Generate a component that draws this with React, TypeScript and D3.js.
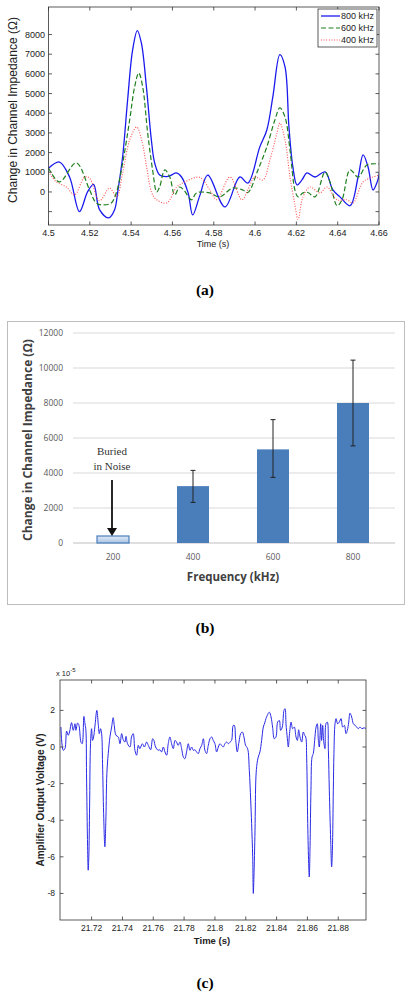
import React from 'react';
import * as d3 from 'd3';

// ---------- Panel (a) data: [time (s), change in impedance (Ω)] ----------
const series800: [number, number][] = [
  [4.5, 1200], [4.5053, 1520], [4.5102, 760], [4.515, -1000], [4.5189, 0], [4.5218, 380],
  [4.5247, -900], [4.5291, -1320], [4.532, -900], [4.5335, 0], [4.5359, 1800], [4.5383, 4670],
  [4.5407, 7200], [4.543, 8200], [4.545, 7550], [4.5474, 5340], [4.5498, 2640], [4.5514, 1470],
  [4.5538, 860], [4.5571, 780], [4.5595, 860], [4.5619, 970], [4.5644, 760], [4.5676, -50],
  [4.5698, -1170], [4.5732, -200], [4.5771, 860], [4.5854, -760], [4.5926, 760], [4.5965, 450],
  [4.6023, 2290], [4.6057, 3150], [4.6086, 4830], [4.612, 6980], [4.6145, 6360], [4.6164, 3300],
  [4.6183, 1270], [4.6203, 360], [4.6227, 610], [4.6251, 970], [4.629, 760], [4.6339, 1020],
  [4.6377, 100], [4.6411, -250], [4.646, -700], [4.6499, 760], [4.6523, 1880], [4.6547, 1270],
  [4.6571, 100], [4.6591, 500], [4.6605, 1120],
];
const series600: [number, number][] = [
  [4.5, 1220], [4.5053, 510], [4.5134, 1480], [4.5199, 100], [4.5231, -560], [4.5262, -660],
  [4.5304, -560], [4.5328, -50], [4.5359, 1470], [4.5393, 3660], [4.5417, 5340], [4.5437, 6050],
  [4.5456, 5340], [4.548, 3000], [4.5504, 1120], [4.5524, 0], [4.5538, 250], [4.5563, 1120],
  [4.5587, 760], [4.5611, -150], [4.5635, 250], [4.5655, 100], [4.5692, -400], [4.5716, -50],
  [4.5781, -50], [4.5829, -250], [4.5892, 200], [4.5941, 100], [4.5965, -30], [4.6014, 1120],
  [4.6057, 2290], [4.6096, 3660], [4.612, 4270], [4.6145, 3810], [4.6169, 2140], [4.6193, 100],
  [4.6208, -250], [4.6232, -50], [4.6256, -30], [4.629, -250], [4.6339, 1020], [4.6363, 500],
  [4.6397, -700], [4.6421, -400], [4.646, 1120], [4.6499, 760], [4.6542, 1370], [4.6605, 1420],
];
const series400: [number, number][] = [
  [4.5, 1020], [4.5039, 510], [4.5087, 250], [4.5126, -150], [4.5175, 760], [4.5199, 700],
  [4.5247, -450], [4.5296, 200], [4.533, -250], [4.5359, 970], [4.5393, 2640], [4.5427, 3300],
  [4.5451, 2640], [4.5475, 1270], [4.55, -50], [4.5524, -400], [4.5572, -560], [4.5621, 250],
  [4.566, 510], [4.5732, 740], [4.5781, 100], [4.5815, -400], [4.5878, 760], [4.5936, -400],
  [4.5965, 100], [4.5999, 760], [4.6038, 610], [4.6072, 1630], [4.6106, 3000], [4.612, 3500],
  [4.6145, 2640], [4.6169, 760], [4.6193, -660], [4.6208, -1400], [4.6232, -250], [4.6266, 250],
  [4.6314, -50], [4.6348, 250], [4.6397, -400], [4.6445, -400], [4.6474, -560], [4.6523, 510],
  [4.6571, 760], [4.6605, 860],
];
const legendLabels = ['800 kHz', '600 kHz', '400 kHz'];
const aXTicks = [4.5, 4.52, 4.54, 4.56, 4.58, 4.6, 4.62, 4.64, 4.66];
const aYTicks = [-1000, 0, 1000, 2000, 3000, 4000, 5000, 6000, 7000, 8000];

// ---------- Panel (b) data ----------
const bCategories = ['200', '400', '600', '800'];
const bValues = [400, 3250, 5350, 8000];
const bErrUpper = [NaN, 4150, 7050, 10450];
const bErrLower = [NaN, 2320, 3750, 5550];
const bYTicks = [0, 2000, 4000, 6000, 8000, 10000, 12000];

// ---------- Panel (c) data: [time (s), voltage (×1e-5 V)] ----------
const seriesC: [number, number][] = [
  [21.7001, 1.09], [21.7016, -0.18], [21.7027, -0.09], [21.7038, 0.87], [21.7048, 0.64], [21.7057, 0.82],
  [21.707, 1.33], [21.7081, 0.91], [21.7092, 1.27], [21.7098, 0.91], [21.7109, 1.31], [21.7118, 1.18],
  [21.7131, 0.27], [21.7139, 0.18], [21.715, 1.67], [21.7157, 1.27], [21.7163, 0.91], [21.7167, -1.45],
  [21.7174, -5.45], [21.7178, -6.73], [21.7182, -6.0], [21.7187, -3.27], [21.7193, 0.18], [21.72, 1.0],
  [21.7206, 0.36], [21.7213, 0.55], [21.7221, 1.09], [21.7234, 2.0], [21.7243, 1.27], [21.725, 0.73],
  [21.7258, 1.0], [21.7265, 0.73], [21.7271, -0.91], [21.7278, -3.64], [21.7286, -5.45], [21.7293, -3.82],
  [21.7299, -1.45], [21.7308, -0.36], [21.7319, 0.55], [21.733, 1.09], [21.734, 1.6], [21.7347, 1.18],
  [21.7358, 0.64], [21.7373, 0.55], [21.7384, 0.18], [21.7395, 0.73], [21.7405, 0.4], [21.7416, 0.27],
  [21.7423, 0.58], [21.7433, 0.18], [21.7449, 0], [21.7459, 0.55], [21.747, 0.73], [21.7481, -0.18],
  [21.7492, -0.45], [21.7503, 0.09], [21.7513, -0.09], [21.7529, 0.18], [21.7542, 0], [21.7557, 0.27],
  [21.7568, 0.09], [21.7583, -0.15], [21.7596, 0.45], [21.7604, 0.36], [21.7615, 0], [21.7632, -0.18],
  [21.7643, -0.15], [21.7654, -0.27], [21.7665, 0], [21.7676, -0.27], [21.7687, -0.45], [21.7697, 0.18],
  [21.7708, 0.55], [21.7719, 0.18], [21.773, -0.09], [21.7741, 0.36], [21.7751, 0.27], [21.7762, 0.09],
  [21.7773, 0.27], [21.7784, -0.09], [21.7795, -0.55], [21.7805, -0.64], [21.7816, -0.27], [21.7827, 0.18],
  [21.7838, -0.18], [21.7849, 0], [21.786, -0.18], [21.787, -0.15], [21.7881, -0.27], [21.7892, -0.36],
  [21.7903, -0.09], [21.7914, 0.09], [21.7925, 0.45], [21.7935, -0.18], [21.7946, -0.36], [21.7957, 0.09],
  [21.7968, 0.45], [21.7979, 0.55], [21.7989, 0.36], [21.8, 0.18], [21.8011, -0.27], [21.8022, 0],
  [21.8033, 0.18], [21.8043, 0.09], [21.8054, 0], [21.8065, 0.18], [21.8076, 0.27], [21.8087, 0.18],
  [21.8098, 0.27], [21.8108, 0.36], [21.8119, 1.18], [21.8126, 1.18], [21.8134, 0.45], [21.8145, -0.27],
  [21.8156, 0.27], [21.8167, 0.73], [21.8178, 0.82], [21.8188, 0.55], [21.8199, 0.09], [21.8212, -0.09],
  [21.8223, -1.27], [21.8232, -2.9], [21.8238, -4.18], [21.8245, -6.0], [21.8249, -8.0], [21.8253, -7.1],
  [21.826, -4.55], [21.8266, -1.64], [21.8273, -0.91], [21.8281, -0.55], [21.8292, -0.27], [21.8303, 0.36],
  [21.8314, 1.09], [21.8325, 1.36], [21.8331, 1.55], [21.8353, 1.9], [21.8364, 1.64], [21.8374, 1.09],
  [21.8385, 0.45], [21.8396, 0.55], [21.8407, 1.36], [21.8418, 1.45], [21.8426, 0.91], [21.8437, 1.09],
  [21.8448, 2.0], [21.8455, 2.09], [21.8461, 1.27], [21.847, 0.45], [21.8476, 0], [21.8483, 0.64],
  [21.8494, 1.36], [21.8504, 1.0], [21.8515, 1.09], [21.8526, 0.55], [21.8535, 0.36], [21.8543, 0.94],
  [21.8552, 0.55], [21.8563, 0.27], [21.8573, 0.82], [21.8582, 0.64], [21.8589, 0.55], [21.8595, -0.55],
  [21.8602, -4.18], [21.8608, -6.36], [21.8612, -7.1], [21.8617, -5.45], [21.8623, -2.36], [21.863, -0.55],
  [21.8638, -0.36], [21.8647, 0.36], [21.8656, 1.09], [21.8664, 1.27], [21.8671, 0.36], [21.8677, 0],
  [21.8686, 1.27], [21.8692, 0.36], [21.8699, 1.18], [21.8705, 0.36], [21.8714, -0.09], [21.872, 1.27],
  [21.8729, 1.36], [21.8736, -0.18], [21.8742, -2.36], [21.8751, -5.09], [21.8757, -6.55], [21.8762, -5.64],
  [21.8768, -2.36], [21.8772, -0.36], [21.8779, 1.27], [21.8786, 1.55], [21.8796, 1.27], [21.8807, 1.36],
  [21.8818, 1.55], [21.8829, 1.09], [21.884, 1.18], [21.885, 0.73], [21.8859, 0.91], [21.8868, 1.36],
  [21.8876, 1.85], [21.8887, 1.64], [21.8898, 1.27], [21.8909, 1.18], [21.892, 1.09], [21.893, 1.0],
  [21.8941, 1.09], [21.8954, 1.0], [21.8967, 1.05], [21.898, 1.0],
];
const cXTicks = [21.72, 21.74, 21.76, 21.78, 21.8, 21.82, 21.84, 21.86, 21.88];
const cYTicks = [-8, -6, -4, -2, 0, 2];

const MATLAB_FONT = '"Liberation Sans", Arial, sans-serif';
const EXCEL_FONT = '"Open Sans", "Noto Sans", sans-serif';
const SERIF = '"Liberation Serif", "Times New Roman", serif';

function PanelA() {
  const L = 48.5, R = 379, T = 7, B = 225;
  const x = d3.scaleLinear().domain([4.5, 4.66]).range([L, R]);
  const y = d3.scaleLinear().domain([-1680, 9400]).range([B, T]);
  const line = d3.line<[number, number]>().x(d => x(d[0])).y(d => y(d[1])).curve(d3.curveCatmullRom.alpha(0.5));
  const styles = [
    { data: series800, color: '#1a1aee', dash: undefined as string | undefined, w: 1.3 },
    { data: series600, color: '#1f7f1f', dash: '5,2.5', w: 1.2 },
    { data: series400, color: '#ff5050', dash: '1,1.6', w: 1.1 },
  ];
  return (
    <g fontFamily={MATLAB_FONT}>
      <defs>
        <clipPath id="clipA"><rect x={L} y={T} width={R - L} height={B - T} /></clipPath>
      </defs>
      <rect x={L} y={T} width={R - L} height={B - T} fill="#fff" />
      <g clipPath="url(#clipA)">
        {styles.map((s, i) => (
          <path key={i} d={line(s.data) || ''} fill="none" stroke={s.color} strokeWidth={s.w} strokeDasharray={s.dash} />
        ))}
      </g>
      <rect x={L} y={T} width={R - L} height={B - T} fill="none" stroke="#333" strokeWidth={0.8} />
      {aXTicks.map(t => (
        <g key={t}>
          <line x1={x(t)} x2={x(t)} y1={B} y2={B - 3.5} stroke="#333" strokeWidth={0.8} />
          <line x1={x(t)} x2={x(t)} y1={T} y2={T + 3.5} stroke="#333" strokeWidth={0.8} />
          <text x={x(t)} y={235.5} fontSize={9} textAnchor="middle" fill="#222">{String(t)}</text>
        </g>
      ))}
      {aYTicks.map(v => (
        <g key={v}>
          <line x1={L} x2={L + 3.5} y1={y(v)} y2={y(v)} stroke="#333" strokeWidth={0.8} />
          <line x1={R} x2={R - 3.5} y1={y(v)} y2={y(v)} stroke="#333" strokeWidth={0.8} />
          {v >= 0 && <text x={45} y={y(v) + 3.2} fontSize={9} textAnchor="end" fill="#222">{v}</text>}
        </g>
      ))}
      <text x={213} y={246.5} fontSize={9} textAnchor="middle" fill="#222">Time (s)</text>
      <text transform={`translate(16.5,110) rotate(-90)`} fontSize={12} textAnchor="middle" fill="#222">Change in Channel Impedance (Ω)</text>
      {/* legend */}
      <rect x={318} y={9} width={59} height={38} fill="#fff" stroke="#333" strokeWidth={0.8} />
      {styles.map((s, i) => (
        <g key={i}>
          <line x1={321} x2={340} y1={16 + i * 12} y2={16 + i * 12} stroke={s.color} strokeWidth={s.w} strokeDasharray={s.dash} />
          <text x={341} y={19.3 + i * 12} fontSize={9} fill="#222">{legendLabels[i]}</text>
        </g>
      ))}
      <text x={205} y={295} fontSize={15.5} fontWeight="bold" fontFamily={SERIF} textAnchor="middle">(a)</text>
    </g>
  );
}

function PanelB() {
  const L = 73, R = 393, T = 333, B = 543;
  const x = d3.scaleBand().domain(bCategories).range([L, R]).paddingInner(0.6).paddingOuter(0.3);
  const y = d3.scaleLinear().domain([0, 12000]).range([B, T]);
  const bw = x.bandwidth();
  return (
    <g fontFamily={EXCEL_FONT}>
      <defs>
        <linearGradient id="lightBar" x1="0" x2="0" y1="0" y2="1">
          <stop offset="0" stopColor="#dfe9f6" />
          <stop offset="1" stopColor="#a9c3e3" />
        </linearGradient>
      </defs>
      <rect x={7.5} y={321.5} width={397} height={283} fill="#fff" stroke="#bdbdbd" strokeWidth={1} />
      {bYTicks.map(v => (
        <g key={v}>
          <line x1={L} x2={R + 2} y1={y(v)} y2={y(v)} stroke={v === 0 ? '#bfbfbf' : '#d9d9d9'} strokeWidth={1} />
          <text x={63} y={y(v) + 3} fontSize={8.5} textAnchor="end" fill="#595959">{v}</text>
        </g>
      ))}
      {bCategories.map((c, i) => {
        const x0 = x(c) as number;
        const light = i === 0;
        return (
          <g key={c}>
            <rect x={x0} y={y(bValues[i])} width={bw} height={B - y(bValues[i])}
              fill={light ? 'url(#lightBar)' : '#4a7ebb'} stroke={light ? '#4a7ebb' : 'none'} strokeWidth={1.2} />
            {!isNaN(bErrUpper[i]) && (
              <g stroke="#222" strokeWidth={1}>
                <line x1={x0 + bw / 2} x2={x0 + bw / 2} y1={y(bErrUpper[i])} y2={y(bErrLower[i])} />
                <line x1={x0 + bw / 2 - 2.5} x2={x0 + bw / 2 + 2.5} y1={y(bErrUpper[i])} y2={y(bErrUpper[i])} />
                <line x1={x0 + bw / 2 - 2.5} x2={x0 + bw / 2 + 2.5} y1={y(bErrLower[i])} y2={y(bErrLower[i])} />
              </g>
            )}
            <text x={x0 + bw / 2} y={560} fontSize={8.5} textAnchor="middle" fill="#595959">{c}</text>
          </g>
        );
      })}
      <text x={233} y={581} fontSize={11.5} fontWeight="bold" textAnchor="middle" fill="#404040">Frequency (kHz)</text>
      <text transform={`translate(31.5,440) rotate(-90)`} fontSize={12} fontWeight="bold" textAnchor="middle" fill="#404040">Change in Channel Impedance (Ω)</text>
      {/* annotation */}
      <g fontFamily={SERIF} fontSize={11} fill="#333" textAnchor="middle">
        <text x={112} y={455}>Buried</text>
        <text x={112} y={469.5}>in Noise</text>
      </g>
      <line x1={112} x2={112} y1={480} y2={530} stroke="#111" strokeWidth={1.8} />
      <path d="M107,528 L117,528 L112,536 Z" fill="#111" />
      <text x={205} y={633} fontSize={15.5} fontWeight="bold" fontFamily={SERIF} textAnchor="middle">(b)</text>
    </g>
  );
}

function PanelC() {
  const L = 60, R = 366, T = 680, B = 920;
  const x = d3.scaleLinear().domain([21.6995, 21.898]).range([L, R]);
  const y = d3.scaleLinear().domain([-9.45, 3.66]).range([B, T]);
  const line = d3.line<[number, number]>().x(d => x(d[0])).y(d => y(d[1])).curve(d3.curveCatmullRom.alpha(0.5));
  return (
    <g fontFamily={MATLAB_FONT}>
      <rect x={L} y={T} width={R - L} height={B - T} fill="#fff" />
      <path d={line(seriesC) || ''} fill="none" stroke="#2a2ae6" strokeWidth={1} />
      <rect x={L} y={T} width={R - L} height={B - T} fill="none" stroke="#333" strokeWidth={0.8} />
      {cXTicks.map(t => (
        <g key={t}>
          <line x1={x(t)} x2={x(t)} y1={B} y2={B - 3.5} stroke="#333" strokeWidth={0.8} />
          <line x1={x(t)} x2={x(t)} y1={T} y2={T + 3.5} stroke="#333" strokeWidth={0.8} />
          <text x={x(t)} y={931} fontSize={8.5} textAnchor="middle" fill="#222">{String(t)}</text>
        </g>
      ))}
      {cYTicks.map(v => (
        <g key={v}>
          <line x1={L} x2={L + 3.5} y1={y(v)} y2={y(v)} stroke="#333" strokeWidth={0.8} />
          <line x1={R} x2={R - 3.5} y1={y(v)} y2={y(v)} stroke="#333" strokeWidth={0.8} />
          <text x={55} y={y(v) + 3} fontSize={8.5} textAnchor="end" fill="#222">{v}</text>
        </g>
      ))}
      <text x={56} y={676} fontSize={7.5} fill="#222">x 10<tspan dy={-4} fontSize={6}>-5</tspan></text>
      <text x={212} y={944} fontSize={9.5} fontWeight="bold" textAnchor="middle" fill="#222">Time (s)</text>
      <text transform={`translate(44,800) rotate(-90)`} fontSize={10} fontWeight="bold" textAnchor="middle" fill="#222">Amplifier Output Voltage (V)</text>
      <text x={205} y={988} fontSize={15.5} fontWeight="bold" fontFamily={SERIF} textAnchor="middle">(c)</text>
    </g>
  );
}

export default function App() {
  return (
    <svg width={411} height={997} viewBox="0 0 411 997" style={{ position: 'absolute', left: 0, top: 0, background: '#fff' }}>
      <rect x={0} y={0} width={411} height={997} fill="#fff" />
      <PanelA />
      <PanelB />
      <PanelC />
    </svg>
  );
}
